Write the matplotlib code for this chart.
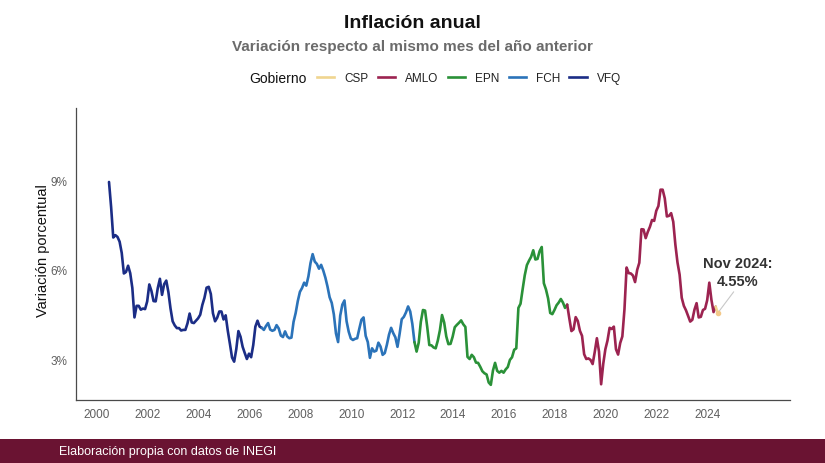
import numpy as np
import matplotlib
matplotlib.use("Agg")
import matplotlib.pyplot as plt
from matplotlib.lines import Line2D
from matplotlib.patches import Rectangle

plt.rcParams['font.family'] = ['Liberation Sans', 'DejaVu Sans']

# ---------------- data (INEGI, inflación anual %) ----------------
# Vicente Fox (Dec 2000 - Nov 2006)
vfq_start = (2000, 12)
vfq_values = [8.96,
              8.11, 7.09, 7.17, 7.11, 6.95, 6.57, 5.88, 5.93, 6.14, 5.89, 5.39, 4.40,
              4.79, 4.79, 4.66, 4.70, 4.68, 4.94, 5.51, 5.29, 4.95, 4.94, 5.39, 5.70,
              5.16, 5.52, 5.64, 5.25, 4.70, 4.27, 4.13, 4.04, 4.04, 3.96, 3.98, 3.98,
              4.20, 4.53, 4.23, 4.21, 4.29, 4.37, 4.49, 4.82, 5.06, 5.40, 5.43, 5.19,
              4.54, 4.27, 4.39, 4.60, 4.60, 4.33, 4.47, 3.95, 3.51, 3.05, 2.91, 3.33,
              3.94, 3.75, 3.41, 3.20, 3.00, 3.18, 3.06, 3.47, 4.09, 4.29, 4.09]
# Felipe Calderón (Dec 2006 - Nov 2012)
fch_start = (2006, 12)
fch_values = [4.05,
              3.98, 4.11, 4.21, 3.99, 3.95, 3.98, 4.14, 4.03, 3.79, 3.74, 3.93, 3.76,
              3.70, 3.72, 4.25, 4.55, 4.95, 5.26, 5.39, 5.57, 5.47, 5.78, 6.23, 6.53,
              6.28, 6.20, 6.04, 6.17, 5.98, 5.74, 5.44, 5.08, 4.89, 4.50, 3.86, 3.57,
              4.46, 4.83, 4.97, 4.27, 3.92, 3.69, 3.64, 3.68, 3.70, 4.02, 4.32, 4.40,
              3.78, 3.57, 3.04, 3.36, 3.25, 3.28, 3.55, 3.42, 3.14, 3.20, 3.48, 3.82,
              4.05, 3.87, 3.73, 3.41, 3.85, 4.34, 4.42, 4.57, 4.77, 4.60, 4.18]
# Enrique Peña Nieto (Dec 2012 - Nov 2018)
epn_start = (2012, 12)
epn_values = [3.57,
              3.25, 3.55, 4.25, 4.65, 4.63, 4.09, 3.47, 3.46, 3.39, 3.36, 3.62, 3.97,
              4.48, 4.23, 3.76, 3.50, 3.51, 3.75, 4.07, 4.15, 4.22, 4.30, 4.17, 4.08,
              3.07, 3.00, 3.14, 3.06, 2.88, 2.87, 2.74, 2.59, 2.52, 2.48, 2.21, 2.13,
              2.61, 2.87, 2.60, 2.54, 2.60, 2.54, 2.65, 2.73, 2.97, 3.06, 3.31, 3.36,
              4.72, 4.86, 5.35, 5.82, 6.16, 6.31, 6.44, 6.66, 6.35, 6.37, 6.63, 6.77,
              5.55, 5.34, 5.04, 4.55, 4.51, 4.65, 4.81, 4.90, 5.02, 4.90, 4.72]
# Andrés Manuel López Obrador (Dec 2018 - Sep 2024)
amlo_start = (2018, 12)
amlo_values = [4.83,
               4.37, 3.94, 4.00, 4.41, 4.28, 3.95, 3.78, 3.16, 3.00, 3.02, 2.97, 2.83,
               3.24, 3.70, 3.25, 2.15, 2.84, 3.33, 3.62, 4.05, 4.01, 4.09, 3.33, 3.15,
               3.54, 3.76, 4.67, 6.08, 5.89, 5.88, 5.81, 5.59, 6.00, 6.24, 7.37, 7.36,
               7.07, 7.28, 7.45, 7.68, 7.65, 7.99, 8.15, 8.70, 8.70, 8.41, 7.80, 7.82,
               7.91, 7.62, 6.85, 6.25, 5.84, 5.06, 4.79, 4.64, 4.45, 4.26, 4.32, 4.66,
               4.88, 4.40, 4.42, 4.65, 4.69, 4.98, 5.57, 4.99, 4.58]
# Claudia Sheinbaum (Oct 2024 - )
csp_start = (2024, 10)
csp_values = [4.76, 4.55]

gov_order = ['VFQ', 'FCH', 'EPN', 'AMLO', 'CSP']
legend_order = ['CSP', 'AMLO', 'EPN', 'FCH', 'VFQ']
gov_colors = {'CSP': '#f0d58f', 'AMLO': '#9c2350', 'EPN': '#2a9138',
              'FCH': '#2b73b9', 'VFQ': '#1b2d86'}
x_ticks_years = list(range(2000, 2025, 2))
y_ticks = [3, 6, 9]

starts = {'VFQ': vfq_start, 'FCH': fch_start, 'EPN': epn_start,
          'AMLO': amlo_start, 'CSP': csp_start}
values = {'VFQ': vfq_values, 'FCH': fch_values, 'EPN': epn_values,
          'AMLO': amlo_values, 'CSP': csp_values}


def month_x(start, n):
    y0, m0 = start
    return y0 + (m0 - 1) / 12 + np.arange(n) / 12


# ---------------- figure ----------------
W, H = 825, 464
fig = plt.figure(figsize=(W / 100, H / 100), dpi=100)
fig.patch.set_facecolor('white')

ax = fig.add_axes([76 / W, 1 - 401 / H, (790 - 76) / W, (401 - 109) / H])
ax.set_facecolor('none')

TICK_SHIFT = 0.43  # label placement relative to month positions in the reference

for i, g in enumerate(gov_order):
    xs = month_x(starts[g], len(values[g]))
    ys = np.array(values[g], dtype=float)
    if i + 1 < len(gov_order):
        nxt = gov_order[i + 1]
        xs = np.append(xs, month_x(starts[nxt], 1))
        ys = np.append(ys, values[nxt][0])
    ax.plot(xs, ys, color=gov_colors[g], lw=1.9, solid_joinstyle='round',
            solid_capstyle='round', zorder=3)

ax.set_xlim(1999.62, 2027.67)
ax.set_ylim(1.62, 11.45)

ax.set_xticks(np.array(x_ticks_years) + TICK_SHIFT)
ax.set_xticklabels([str(y) for y in x_ticks_years])
ax.set_yticks(y_ticks)
ax.set_yticklabels([f"{v}%" for v in y_ticks])
ax.tick_params(axis='both', length=0, labelsize=8.5, labelcolor='#5f5f5f')
ax.tick_params(axis='x', pad=6)
ax.tick_params(axis='y', pad=6)

for s in ['top', 'right']:
    ax.spines[s].set_visible(False)
for s in ['left', 'bottom']:
    ax.spines[s].set_color('#4a4a4a')
    ax.spines[s].set_linewidth(0.9)

# annotation of last value
last_x = month_x(csp_start, len(csp_values))[-1]
last_y = csp_values[-1]
ax.annotate("Nov 2024:\n4.55%", xy=(last_x, last_y),
            xytext=(738, H - 273), textcoords='figure pixels',
            ha='center', va='center', fontsize=10.5, fontweight='bold',
            color='#333333', linespacing=1.35,
            arrowprops=dict(arrowstyle='-', color='#c8c8c8', lw=0.8,
                            shrinkA=1, shrinkB=1, relpos=(0.48, 0.0)))
ax.plot([last_x], [last_y], marker='o', ms=3, color='#f3c98a', zorder=4)

# titles
fig.text(0.5, 1 - 24 / H, "Inflación anual", ha='center', va='center',
         fontsize=14, fontweight='bold', color='#111111')
fig.text(0.5, 1 - 47 / H, "Variación respecto al mismo mes del año anterior",
         ha='center', va='center', fontsize=11, fontweight='bold', color='#6b6b6b')

# y label
fig.text(43 / W, 1 - 251 / H, "Variación porcentual", rotation=90,
         ha='center', va='center', fontsize=10.5, color='#111111')

# legend
fig.text(249 / W, 1 - 79 / H, "Gobierno", ha='left', va='center',
         fontsize=10, color='#111111')
handles = [Line2D([0], [0], color=gov_colors[g], lw=1.9) for g in legend_order]
fig.legend(handles, legend_order, loc='center left',
           bbox_to_anchor=(317 / W, 1 - 79 / H), ncol=5, frameon=False,
           fontsize=8.5, handlelength=1.45, handletextpad=0.85,
           columnspacing=0.8, borderpad=0, borderaxespad=0, labelcolor='#222222')

# footer bar
fig.patches.append(Rectangle((0, 0), 1, 24 / H, transform=fig.transFigure,
                             facecolor='#6a1332', edgecolor='none', zorder=0))
fig.text(59 / W, 12 / H, "Elaboración propia con datos de INEGI",
         ha='left', va='center', fontsize=9, color='white')

fig.savefig("out.png", dpi=100, facecolor='white')
